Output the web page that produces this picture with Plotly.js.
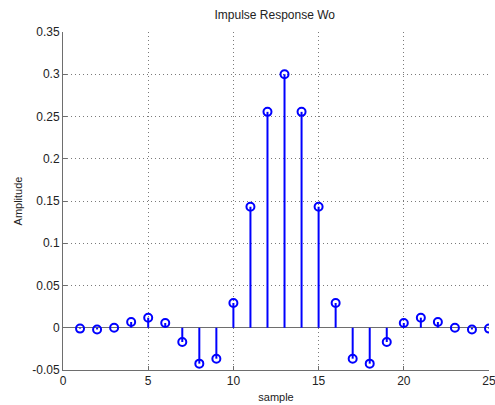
<!DOCTYPE html>
<html>
<head>
<meta charset="utf-8">
<script src="https://cdn.plot.ly/plotly-3.0.1.min.js"></script>
<style>html,body{margin:0;padding:0;background:#fff;}#plot{width:495px;height:405px;}</style>
</head>
<body>
<div id="plot"></div>
<script>
const samples = [1,2,3,4,5,6,7,8,9,10,11,12,13,14,15,16,17,18,19,20,21,22,23,24,25];
const amplitude = [-0.001,-0.002,0.0,0.0068,0.0119,0.0056,-0.0169,-0.0425,-0.0366,0.0293,0.1432,0.2555,0.3,0.2555,0.1432,0.0293,-0.0366,-0.0425,-0.0169,0.0056,0.0119,0.0068,0.0,-0.002,-0.001];
const xTicks = [0,5,10,15,20,25];
const yTicks = [-0.05,0,0.05,0.1,0.15,0.2,0.25,0.3,0.35];
const yTickText = ['-0.05','0','0.05','0.1','0.15','0.2','0.25','0.3','0.35'];

const stemX = [], stemY = [];
samples.forEach((s, i) => { stemX.push(s, s, null); stemY.push(0, amplitude[i], null); });

const blue = '#0000ff';
const axisColor = '#6e6e6e';
const gridColor = '#7a7a7a';
const fam = 'Liberation Sans, Arial, sans-serif';
const font = {family: fam, size: 11, color: '#222'};

const traces = [
  {x: stemX, y: stemY, type: 'scatter', mode: 'lines', line: {color: blue, width: 2}, hoverinfo: 'skip'},
  {x: samples, y: amplitude, type: 'scatter', mode: 'markers',
   marker: {symbol: 'circle-open', size: 8, color: blue, line: {color: blue, width: 2}}}
];

const layout = {
  width: 495, height: 405,
  margin: {l: 63, r: 6, t: 32, b: 35, pad: 0},
  paper_bgcolor: '#ffffff', plot_bgcolor: '#ffffff',
  showlegend: false,
  font: font,
  title: {text: 'Impulse Response Wo', font: {family: fam, size: 12, color: '#222'}, x: 0.555, xanchor: 'center', y: 0.963, yanchor: 'middle'},
  xaxis: {
    range: [0, 25], tickvals: xTicks, ticktext: xTicks.map(String),
    showgrid: true, gridcolor: gridColor, griddash: '1px,3px', gridwidth: 1,
    showline: true, linecolor: axisColor, linewidth: 1,
    ticks: 'inside', ticklen: 4, tickcolor: axisColor,
    ticklabeloverflow: 'allow',
    zeroline: false, mirror: false, fixedrange: true,
    tickfont: {family: fam, size: 12, color: '#222'},
    title: {text: 'sample', font: {family: fam, size: 11, color: '#222'}, standoff: 5}
  },
  yaxis: {
    range: [-0.05, 0.35], tickvals: yTicks, ticktext: yTickText,
    showgrid: true, gridcolor: gridColor, griddash: '1px,3px', gridwidth: 1,
    showline: true, linecolor: axisColor, linewidth: 1,
    ticks: 'inside', ticklen: 4, tickcolor: axisColor,
    ticklabeloverflow: 'allow',
    zeroline: true, zerolinecolor: axisColor, zerolinewidth: 1,
    fixedrange: true,
    tickfont: {family: fam, size: 12, color: '#222'},
    title: {text: 'Amplitude', font: {family: fam, size: 11, color: '#222'}, standoff: 7}
  }
};

Plotly.newPlot('plot', traces, layout, {displayModeBar: false, staticPlot: true});
</script>
</body>
</html>
